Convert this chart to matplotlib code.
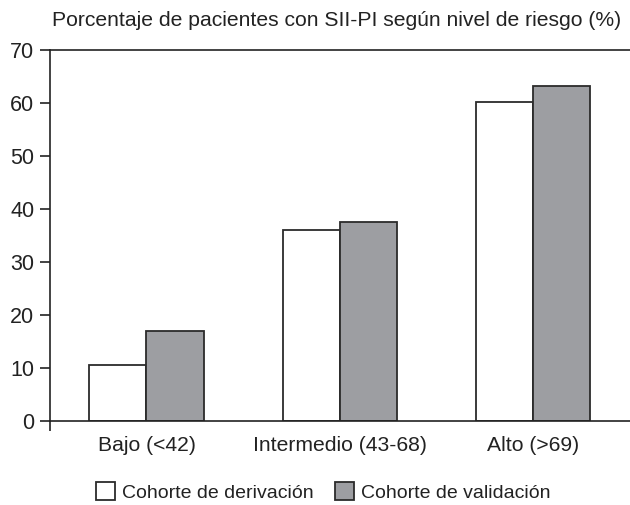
import numpy as np
import matplotlib
matplotlib.use("Agg")
import matplotlib.pyplot as plt

categorias = ["Bajo (<42)", "Intermedio (43-68)", "Alto (>69)"]
derivacion = [10.6, 36.1, 60.2]
validacion = [17.0, 37.6, 63.2]
yticks = [0, 10, 20, 30, 40, 50, 60, 70]

plt.rcParams['font.family'] = ['Liberation Sans', 'DejaVu Sans']

fig = plt.figure(figsize=(6.3, 5.05), dpi=100)
ax = fig.add_axes([0.079, 0.166, 0.921, 0.735])

x = np.arange(len(categorias))
w = 0.295
edge = '#2b2b2b'
ax.bar(x - w / 2, derivacion, w, color='white', edgecolor=edge, linewidth=1.3,
       label='Cohorte de derivación')
ax.bar(x + w / 2, validacion, w, color='#9d9ea2', edgecolor=edge, linewidth=1.3,
       label='Cohorte de validación')

ax.set_xlim(-0.5, 2.5)
ax.set_ylim(0, 70)
ax.set_yticks(yticks)
ax.set_xticks(x)
ax.set_xticklabels(categorias, fontsize=15.2, color='#222222')
ax.tick_params(axis='x', length=0, pad=11)
ax.tick_params(axis='y', length=7, width=1.2, labelsize=15.5, colors='#222222', pad=4)
ax.set_xticks([-0.5], minor=True)
ax.tick_params(axis='x', which='minor', length=7, width=1.2, color='#222222')

ax.spines['right'].set_visible(False)
for s in ['left', 'bottom', 'top']:
    ax.spines[s].set_linewidth(1.2)
    ax.spines[s].set_color('#222222')

fig.text(0.534, 0.96, 'Porcentaje de pacientes con SII-PI según nivel de riesgo (%)',
         ha='center', va='center', fontsize=15.2, color='#222222')

fig.legend(loc='center', bbox_to_anchor=(0.513, 0.026), ncol=2, frameon=False,
           fontsize=14.0, handlelength=1.0, handleheight=1.0, handletextpad=0.35,
           columnspacing=1.1, labelcolor='#222222')

fig.savefig('out.png', dpi=100)
